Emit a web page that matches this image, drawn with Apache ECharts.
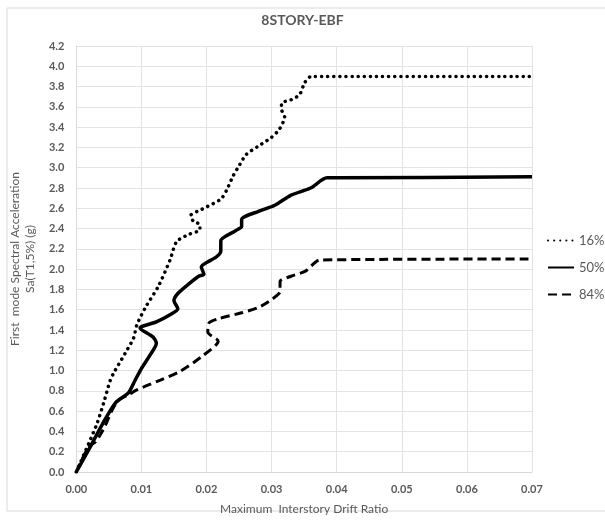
<!DOCTYPE html>
<html>
<head>
<meta charset="utf-8">
<script src="https://cdn.jsdelivr.net/npm/echarts@6/dist/echarts.min.js"></script>
<style>html,body{margin:0;padding:0;background:#fff}#c{width:605px;height:524px}</style>
</head>
<body>
<div id="c"></div>
<script>
const titleText = '8STORY-EBF';
const xTitle = 'Maximum  Interstory Drift Ratio';
const yTitle = 'First  mode Spectral Acceleration\nSa(T1,5%) (g)';
const seriesNames = ['16%', '50%', '84%'];

const s16 = [[0,0],[0.0019,0.28],[0.0032,0.48],[0.0042,0.68],[0.0052,0.9],[0.0057,0.97],[0.0075,1.17],[0.0088,1.32],[0.0093,1.45],[0.0106,1.62],[0.0126,1.83],[0.0144,2.09],[0.0154,2.27],[0.0172,2.34],[0.019,2.39],[0.019,2.44],[0.018,2.47],[0.0176,2.53],[0.0193,2.59],[0.0222,2.69],[0.0231,2.78],[0.0241,2.92],[0.0251,3.03],[0.0261,3.13],[0.0279,3.21],[0.030,3.30],[0.0312,3.38],[0.032,3.5],[0.0315,3.58],[0.0316,3.64],[0.033,3.67],[0.0343,3.72],[0.0351,3.84],[0.0361,3.9],[0.07,3.9]];
const s50 = [[0,0],[0.002,0.23],[0.004,0.47],[0.006,0.68],[0.008,0.78],[0.009,0.9],[0.010,1.02],[0.0113,1.15],[0.0123,1.27],[0.0118,1.33],[0.0098,1.42],[0.0123,1.48],[0.0144,1.55],[0.0156,1.61],[0.015,1.69],[0.0156,1.76],[0.0172,1.85],[0.0188,1.93],[0.0196,1.95],[0.0192,2.02],[0.0215,2.12],[0.0222,2.18],[0.0222,2.28],[0.0245,2.38],[0.0254,2.42],[0.0254,2.49],[0.028,2.57],[0.0305,2.63],[0.033,2.73],[0.036,2.80],[0.0385,2.90],[0.04,2.90],[0.07,2.91]];
const s84 = [[0,0],[0.0019,0.25],[0.003,0.30],[0.0044,0.45],[0.0055,0.61],[0.0065,0.71],[0.008,0.76],[0.0093,0.81],[0.0123,0.89],[0.0159,0.99],[0.0193,1.14],[0.0218,1.29],[0.0202,1.38],[0.0204,1.47],[0.0218,1.51],[0.0254,1.57],[0.0279,1.62],[0.030,1.70],[0.0313,1.78],[0.0313,1.88],[0.033,1.93],[0.0352,1.98],[0.0374,2.09],[0.07,2.1]];

const FONT = 'Lato';
const GRAY = '#595959';
const chart = echarts.init(document.getElementById('c'));
const mk = (name, data, type, width, cap) => ({
  name, type: 'line', data, showSymbol: false, symbol: 'none', smooth: 0.25,
  lineStyle: { color: '#000', width, type, cap },
  itemStyle: { color: '#000' }
});
chart.setOption({
  animation: false,
  backgroundColor: '#fff',
  title: { text: titleText, left: 'center', top: 8, textStyle: { fontFamily: FONT, fontSize: 14, fontWeight: 'bold', color: GRAY } },
  graphic: [{ type: 'rect', shape: { x: 7, y: 8, width: 640, height: 503 }, style: { fill: 'none', stroke: '#d9d9d9', lineWidth: 1 }, silent: true }],
  grid: { left: 74, right: 73, top: 46, bottom: 52 },
  legend: {
    orient: 'vertical', left: 547, top: 234, padding: 0, itemWidth: 26, itemHeight: 10, itemGap: 14,
    data: seriesNames,
    itemStyle: { opacity: 0 },
    textStyle: { fontFamily: FONT, fontSize: 13, color: GRAY }
  },
  xAxis: {
    type: 'value', min: 0, max: 0.07, interval: 0.01,
    name: xTitle, nameLocation: 'middle', nameGap: 31,
    nameTextStyle: { fontFamily: FONT, fontSize: 12, color: GRAY },
    axisLine: { show: true, lineStyle: { color: '#d9d9d9' } },
    axisTick: { show: false },
    axisLabel: { fontFamily: FONT, fontSize: 11, fontWeight: 'bold', color: GRAY, margin: 12, formatter: v => v.toFixed(2) },
    splitLine: { show: true, lineStyle: { color: '#e3e3e3' } }
  },
  yAxis: {
    type: 'value', min: 0, max: 4.2, interval: 0.2,
    name: yTitle, nameLocation: 'middle', nameGap: 32, nameRotate: 90,
    nameTextStyle: { fontFamily: FONT, fontSize: 12, color: GRAY, lineHeight: 15 },
    axisLine: { show: true, lineStyle: { color: '#d9d9d9' } },
    axisTick: { show: false },
    axisLabel: { fontFamily: FONT, fontSize: 11, fontWeight: 'bold', color: GRAY, margin: 12, formatter: v => v.toFixed(1) },
    splitLine: { show: true, lineStyle: { color: '#e3e3e3' } }
  },
  series: [
    mk(seriesNames[0], s16, [0.1, 6], 3.5, 'round'),
    mk(seriesNames[1], s50, 'solid', 3.5, 'butt'),
    mk(seriesNames[2], s84, [9, 5], 3, 'butt')
  ]
});
</script>
</body>
</html>
